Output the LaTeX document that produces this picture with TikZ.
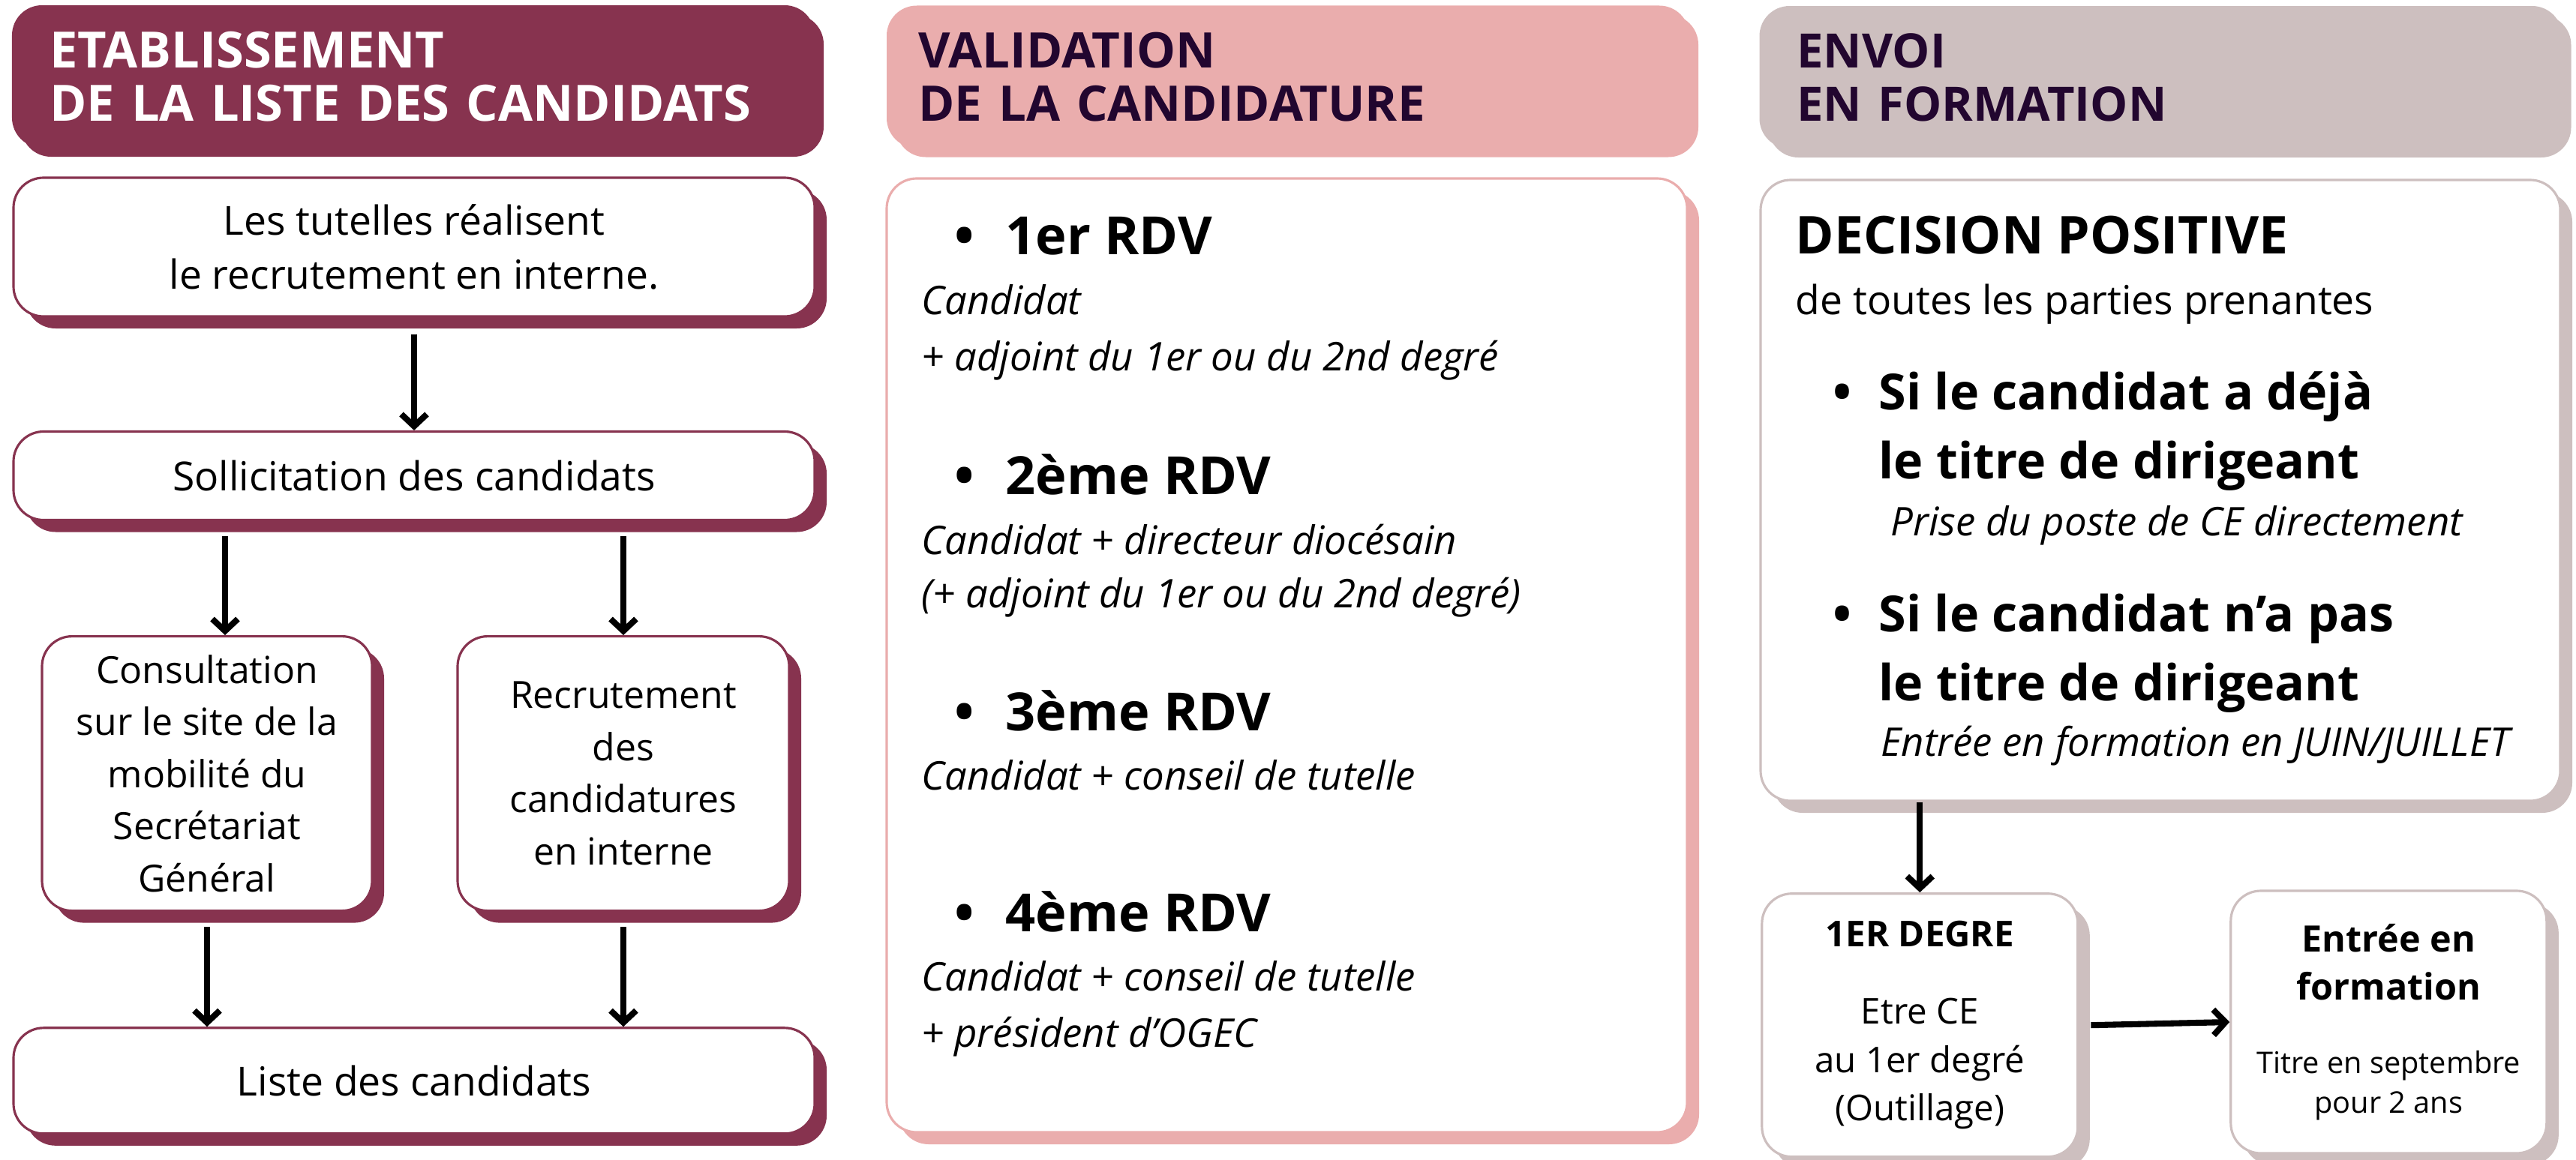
\documentclass[tikz,border=0pt]{standalone}
\usepackage{fontspec}
\setmainfont{Open Sans}
\usepackage{xcolor}
\usepackage{tikz}
\usetikzlibrary{positioning,shadows,arrows.meta}

\definecolor{bordeaux}{HTML}{87334F}
\definecolor{rose}{HTML}{EAADAD}
\definecolor{taupe}{HTML}{CDBFBF}
\definecolor{prune}{HTML}{22062F}

\begin{document}
\begin{tikzpicture}[x=1cm,y=-1cm,
  hd/.style={fill=#1, rounded corners=4mm, minimum width=10.7cm, minimum height=1.9cm, text width=9.7cm, align=left,
    font=\fontsize{19}{20.2}\selectfont\bfseries, general shadow={fill=#1, shadow xshift=1.2mm, shadow yshift=-1.2mm}},
  bx/.style={draw=#1, fill=white, line width=0.9pt, rounded corners=4mm, align=center,
    font=\fontsize{15.2}{19.8}\selectfont, general shadow={fill=#1, shadow xshift=1.6mm, shadow yshift=-1.6mm}},
  rdv/.style={anchor=base west, inner sep=0pt, font=\fontsize{20}{24}\selectfont\bfseries},
  si/.style={anchor=base west, inner sep=0pt, font=\fontsize{18.9}{24}\selectfont\bfseries},
  note/.style={anchor=base west, inner sep=0pt, font=\fontsize{15}{18}\selectfont\itshape},
  arr/.style={line width=2.3pt, -{Straight Barb[length=1.6mm,width=3.4mm]}}]
\useasboundingbox (0,0) rectangle (34.34,15.47);

\node[hd=bordeaux, text=white] (h1) at (5.51,1.02) {ETABLISSEMENT\\DE LA LISTE DES CANDIDATS};
\node[hd=rose, text=prune, text width=9.85cm, font=\fontsize{18.6}{20.2}\selectfont\bfseries] (h2) at (17.17,1.025) {VALIDATION\\DE LA CANDIDATURE};
\node[hd=taupe, text=prune, font=\fontsize{18}{20.2}\selectfont\bfseries] (h3) at (28.805,1.03) {ENVOI\\EN FORMATION};

\node[bx=bordeaux, minimum width=10.68cm, minimum height=1.85cm, font=\fontsize{15.2}{20.7}\selectfont] (tut) at (5.52,3.295) {Les tutelles réalisent\\le recrutement en interne.};
\node[bx=bordeaux, minimum width=10.68cm, minimum height=1.18cm] (sol) at (5.52,6.345) {Sollicitation des candidats};
\node[bx=bordeaux, minimum width=4.40cm, minimum height=3.66cm, font=\fontsize{14.2}{19.8}\selectfont] (cons) at (2.76,10.316) {Consultation\\sur le site de la\\mobilité du\\Secrétariat\\Général};
\node[bx=bordeaux, minimum width=4.42cm, minimum height=3.66cm, font=\fontsize{14.2}{19.8}\selectfont] (recr) at (8.31,10.316) {Recrutement\\des\\candidatures\\en interne};
\node[bx=bordeaux, minimum width=10.68cm, minimum height=1.41cm] (liste) at (5.52,14.413) {Liste des candidats};

\draw[arr] (tut.south) ++(0,0.22) -- (sol.north);
\draw[arr] ([xshift=2.4mm]cons.north |- sol.south) ++(0,0.2) -- ([xshift=2.4mm]cons.north);
\draw[arr] (recr.north |- sol.south) ++(0,0.2) -- (recr.north);
\draw[arr] (cons.south) ++(0,0.2) -- (cons.south |- liste.north);
\draw[arr] (recr.south) ++(0,0.2) -- (recr.south |- liste.north);

\node[bx=rose, minimum width=10.67cm, minimum height=12.72cm] (val) at (17.155,8.74) {};
\node[rdv] (r1) at (13.40,3.39) {\llap{\textbullet\hspace{4.2mm}}1er RDV};
\node[note] (r1a) at (12.28,4.195) {Candidat};
\node[note] (r1b) at (12.28,4.94) {+ adjoint du 1er ou du 2nd degré};
\node[rdv] (r2) at (13.40,6.595) {\llap{\textbullet\hspace{4.2mm}}2ème RDV};
\node[note] (r2a) at (12.28,7.39) {Candidat + directeur diocésain};
\node[note] (r2b) at (12.28,8.105) {(+ adjoint du 1er ou du 2nd degré)};
\node[rdv] (r3) at (13.40,9.745) {\llap{\textbullet\hspace{4.2mm}}3ème RDV};
\node[note] (r3a) at (12.28,10.53) {Candidat + conseil de tutelle};
\node[rdv] (r4) at (13.40,12.42) {\llap{\textbullet\hspace{4.2mm}}4ème RDV};
\node[note] (r4a) at (12.28,13.215) {Candidat + conseil de tutelle};
\node[note] (r4b) at (12.28,13.96) {+ président d’OGEC};

\node[bx=taupe, minimum width=10.66cm, minimum height=8.28cm] (dec) at (28.80,6.54) {};
\node[rdv, font=\fontsize{19.8}{24}\selectfont\bfseries] (dp) at (23.93,3.385) {DECISION POSITIVE};
\node[rdv, font=\fontsize{15.2}{18}\selectfont] (dpa) at (23.93,4.196) {de toutes les parties prenantes};
\node[si] (s1) at (25.04,5.465) {\llap{\textbullet\hspace{3.6mm}}Si le candidat a déjà};
\node[si] (s1b) at (25.04,6.38) {le titre de dirigeant};
\node[note] (s1c) at (25.20,7.144) {Prise du poste de CE directement};
\node[si] (s2) at (25.04,8.427) {\llap{\textbullet\hspace{3.6mm}}Si le candidat n’a pas};
\node[si] (s2b) at (25.04,9.344) {le titre de dirigeant};
\node[note] (s2c) at (25.07,10.085) {Entrée en formation en JUIN/JUILLET};

\node[bx=taupe, minimum width=4.21cm, minimum height=3.51cm, font=\fontsize{13.5}{18.4}\selectfont] (deg) at (25.593,13.672)
  {\textbf{1ER DEGRE}\\[10.8pt]Etre CE\\au 1er degré\\(Outillage)};
\node[bx=taupe, minimum width=4.21cm, minimum height=3.50cm, font=\fontsize{13.8}{18.4}\selectfont] (form) at (31.843,13.63)
  {\textbf{Entrée en}\\\textbf{formation}\\[9.4pt]{\fontsize{11.3}{15}\selectfont Titre en septembre}\\[-3.4pt]{\fontsize{11.3}{15}\selectfont pour 2 ans}};

\draw[arr] (dec.south -| deg.north) -- (deg.north);
\draw[arr] ([xshift=1.6mm]deg.east) -- (form.west);
\end{tikzpicture}
\end{document}
